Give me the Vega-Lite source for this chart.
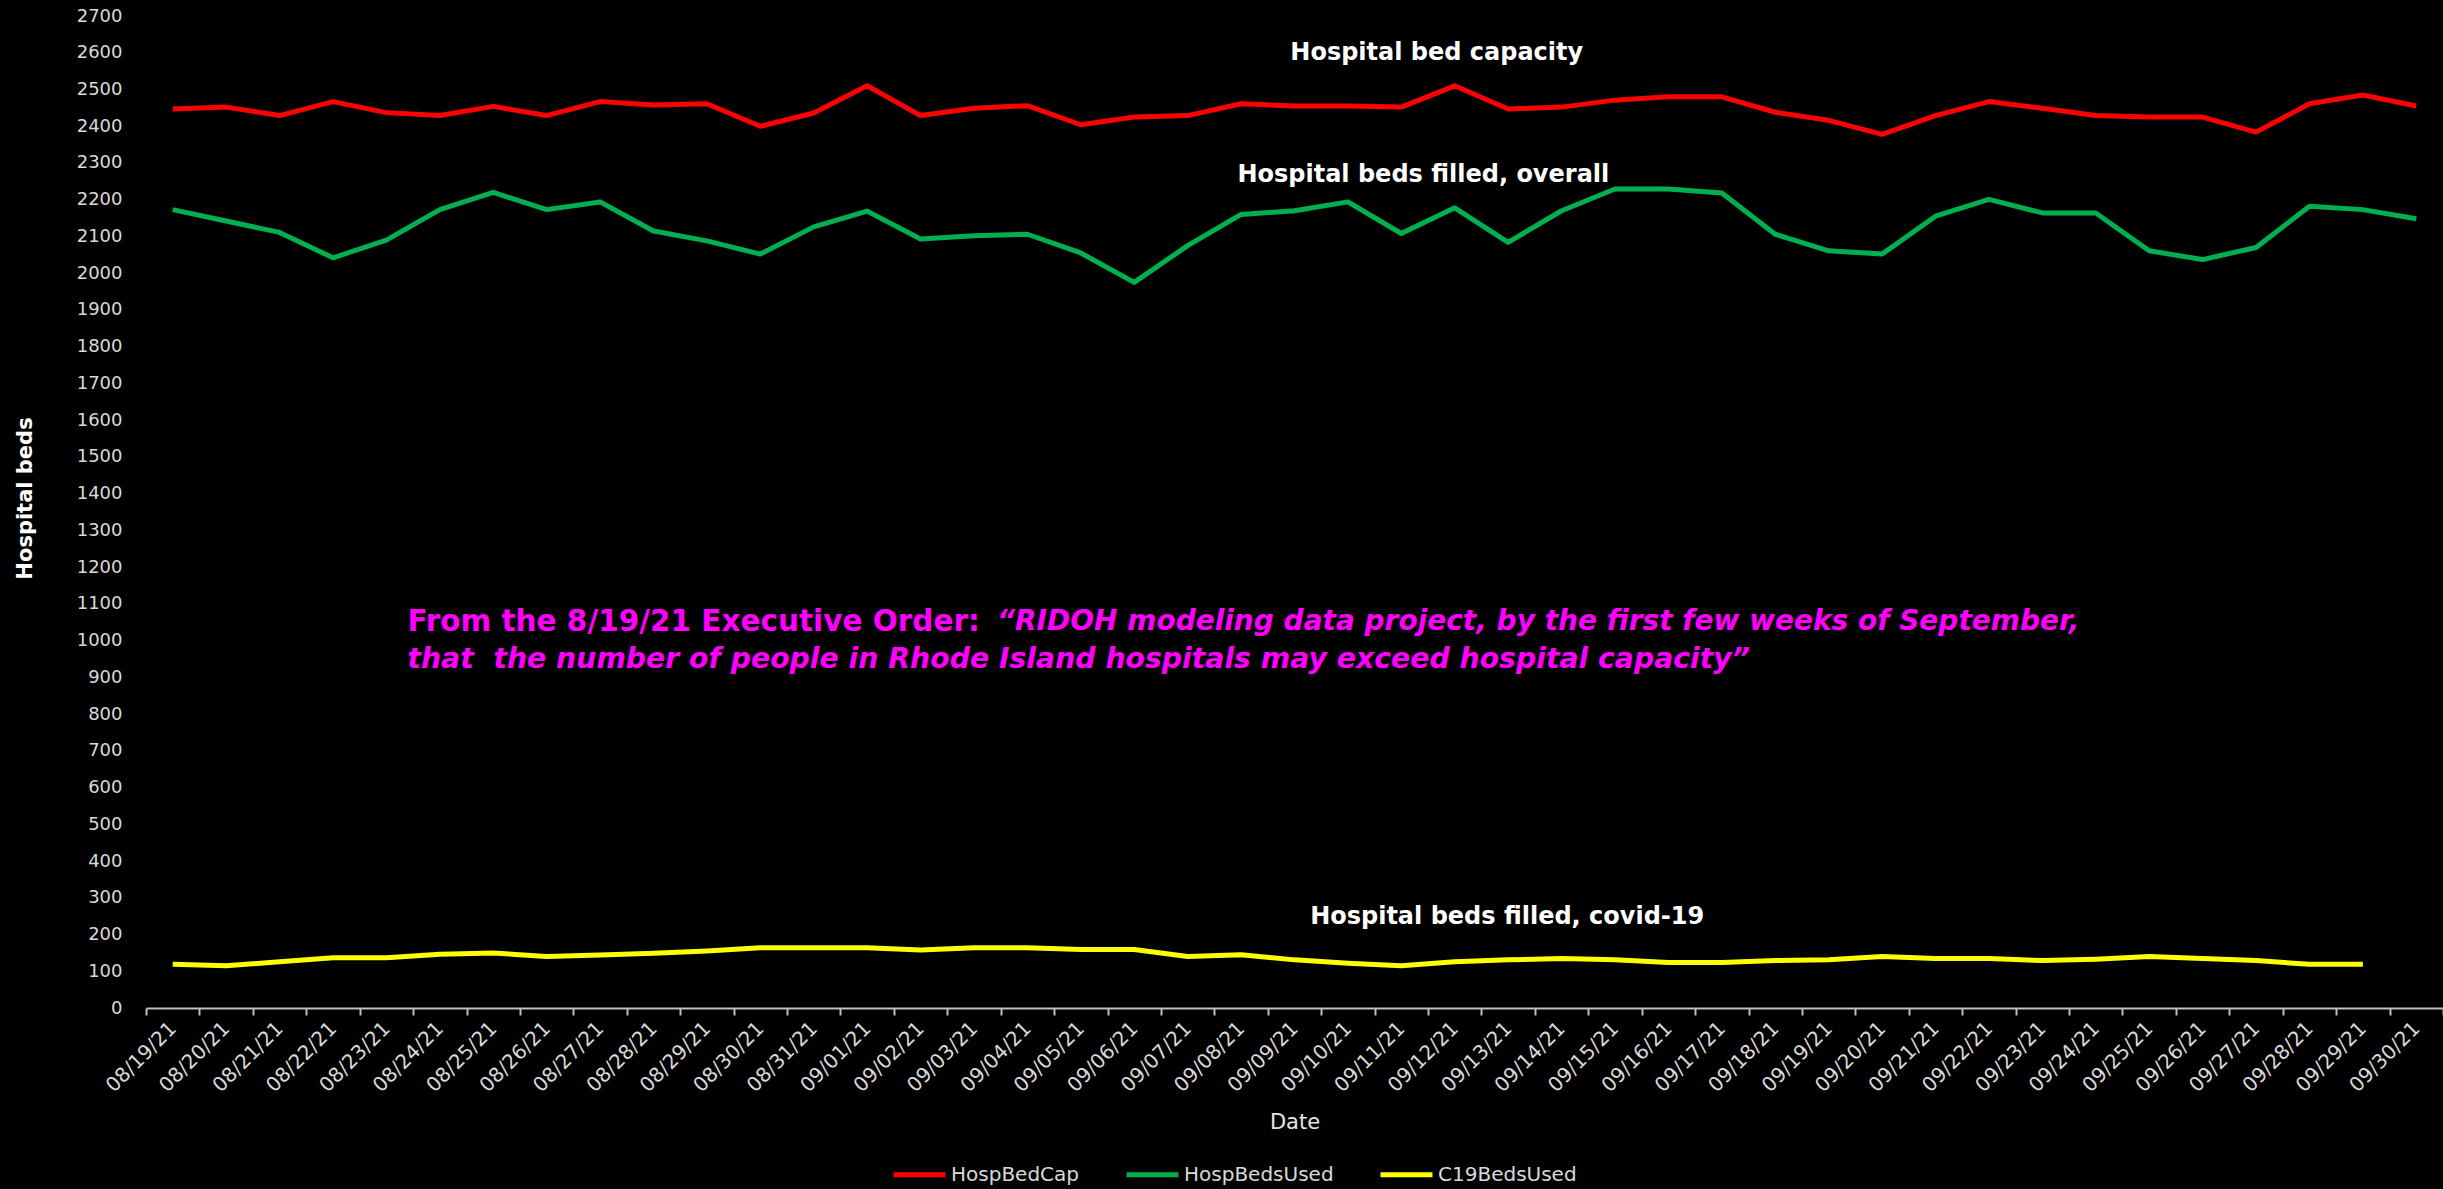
{
  "$schema": "https://vega.github.io/schema/vega-lite/v6.json",
  "autosize": {"type": "none"},
  "padding": {"left": 146, "top": 16, "right": 0, "bottom": 181},
  "width": 2297,
  "height": 992,
  "background": "#000000",
  "config": {
    "view": {"stroke": null},
    "font": "DejaVu Sans"
  },
  "layer": [
    {
      "data": {
        "values": [
          {"date": "08/19/21", "HospBedCap": 2447, "HospBedsUsed": 2173, "C19BedsUsed": 119},
          {"date": "08/20/21", "HospBedCap": 2452, "HospBedsUsed": 2142, "C19BedsUsed": 115},
          {"date": "08/21/21", "HospBedCap": 2429, "HospBedsUsed": 2111, "C19BedsUsed": 126},
          {"date": "08/22/21", "HospBedCap": 2467, "HospBedsUsed": 2042, "C19BedsUsed": 137},
          {"date": "08/23/21", "HospBedCap": 2437, "HospBedsUsed": 2090, "C19BedsUsed": 137},
          {"date": "08/24/21", "HospBedCap": 2429, "HospBedsUsed": 2173, "C19BedsUsed": 146},
          {"date": "08/25/21", "HospBedCap": 2454, "HospBedsUsed": 2220, "C19BedsUsed": 150},
          {"date": "08/26/21", "HospBedCap": 2429, "HospBedsUsed": 2173, "C19BedsUsed": 140},
          {"date": "08/27/21", "HospBedCap": 2467, "HospBedsUsed": 2194, "C19BedsUsed": 144},
          {"date": "08/28/21", "HospBedCap": 2458, "HospBedsUsed": 2115, "C19BedsUsed": 149},
          {"date": "08/29/21", "HospBedCap": 2461, "HospBedsUsed": 2088, "C19BedsUsed": 155},
          {"date": "08/30/21", "HospBedCap": 2400, "HospBedsUsed": 2052, "C19BedsUsed": 164},
          {"date": "08/31/21", "HospBedCap": 2436, "HospBedsUsed": 2126, "C19BedsUsed": 164},
          {"date": "09/01/21", "HospBedCap": 2510, "HospBedsUsed": 2169, "C19BedsUsed": 164},
          {"date": "09/02/21", "HospBedCap": 2429, "HospBedsUsed": 2093, "C19BedsUsed": 158},
          {"date": "09/03/21", "HospBedCap": 2449, "HospBedsUsed": 2102, "C19BedsUsed": 164},
          {"date": "09/04/21", "HospBedCap": 2456, "HospBedsUsed": 2106, "C19BedsUsed": 164},
          {"date": "09/05/21", "HospBedCap": 2404, "HospBedsUsed": 2055, "C19BedsUsed": 159},
          {"date": "09/06/21", "HospBedCap": 2425, "HospBedsUsed": 1975, "C19BedsUsed": 159},
          {"date": "09/07/21", "HospBedCap": 2429, "HospBedsUsed": 2075, "C19BedsUsed": 140},
          {"date": "09/08/21", "HospBedCap": 2461, "HospBedsUsed": 2160, "C19BedsUsed": 145},
          {"date": "09/09/21", "HospBedCap": 2455, "HospBedsUsed": 2170, "C19BedsUsed": 131},
          {"date": "09/10/21", "HospBedCap": 2455, "HospBedsUsed": 2194, "C19BedsUsed": 122},
          {"date": "09/11/21", "HospBedCap": 2452, "HospBedsUsed": 2108, "C19BedsUsed": 115},
          {"date": "09/12/21", "HospBedCap": 2510, "HospBedsUsed": 2178, "C19BedsUsed": 126},
          {"date": "09/13/21", "HospBedCap": 2447, "HospBedsUsed": 2084, "C19BedsUsed": 131},
          {"date": "09/14/21", "HospBedCap": 2452, "HospBedsUsed": 2170, "C19BedsUsed": 135},
          {"date": "09/15/21", "HospBedCap": 2471, "HospBedsUsed": 2229, "C19BedsUsed": 131},
          {"date": "09/16/21", "HospBedCap": 2480, "HospBedsUsed": 2229, "C19BedsUsed": 124},
          {"date": "09/17/21", "HospBedCap": 2480, "HospBedsUsed": 2218, "C19BedsUsed": 124},
          {"date": "09/18/21", "HospBedCap": 2438, "HospBedsUsed": 2106, "C19BedsUsed": 129},
          {"date": "09/19/21", "HospBedCap": 2416, "HospBedsUsed": 2061, "C19BedsUsed": 131},
          {"date": "09/20/21", "HospBedCap": 2378, "HospBedsUsed": 2052, "C19BedsUsed": 140},
          {"date": "09/21/21", "HospBedCap": 2429, "HospBedsUsed": 2155, "C19BedsUsed": 135},
          {"date": "09/22/21", "HospBedCap": 2467, "HospBedsUsed": 2201, "C19BedsUsed": 135},
          {"date": "09/23/21", "HospBedCap": 2449, "HospBedsUsed": 2164, "C19BedsUsed": 129},
          {"date": "09/24/21", "HospBedCap": 2429, "HospBedsUsed": 2164, "C19BedsUsed": 133},
          {"date": "09/25/21", "HospBedCap": 2425, "HospBedsUsed": 2061, "C19BedsUsed": 140},
          {"date": "09/26/21", "HospBedCap": 2425, "HospBedsUsed": 2037, "C19BedsUsed": 135},
          {"date": "09/27/21", "HospBedCap": 2384, "HospBedsUsed": 2070, "C19BedsUsed": 129},
          {"date": "09/28/21", "HospBedCap": 2461, "HospBedsUsed": 2182, "C19BedsUsed": 119},
          {"date": "09/29/21", "HospBedCap": 2485, "HospBedsUsed": 2173, "C19BedsUsed": 119},
          {"date": "09/30/21", "HospBedCap": 2455, "HospBedsUsed": 2148}
        ]
      },
      "transform": [
        {"fold": ["HospBedCap", "HospBedsUsed", "C19BedsUsed"], "as": ["series", "beds"]},
        {"filter": "isValid(datum.beds)"}
      ],
      "mark": {"type": "line", "strokeWidth": 5, "strokeJoin": "round"},
      "encoding": {
        "x": {
          "field": "date",
          "type": "ordinal",
          "scale": {"type": "band", "paddingInner": 0, "paddingOuter": 0},
          "axis": {
            "title": "Date",
            "titleFont": "DejaVu Sans",
            "titleFontSize": 21,
            "titleFontWeight": "normal",
            "titleColor": "#e6e6e6",
            "titleY": 114,
            "titleBaseline": "middle",
            "labelAngle": -45,
            "labelAlign": "right",
            "labelBaseline": "middle",
            "labelFont": "DejaVu Sans",
            "labelFontSize": 20,
            "labelColor": "#d9d9d9",
            "labelPadding": 10,
            "labelOverlap": false,
            "tickBand": "extent",
            "domainColor": "#bfbfbf",
            "domainWidth": 2,
            "tickColor": "#bfbfbf",
            "tickWidth": 2,
            "tickSize": 7,
            "grid": false
          }
        },
        "y": {
          "field": "beds",
          "type": "quantitative",
          "scale": {"domain": [0, 2700], "nice": false},
          "axis": {
            "title": "Hospital beds",
            "titleFont": "DejaVu Sans",
            "titleFontSize": 21,
            "titleFontWeight": "bold",
            "titleColor": "#ffffff",
            "titleAngle": -90,
            "titleX": -121,
            "titleY": 482,
            "titleAlign": "center",
            "titleBaseline": "middle",
            "tickCount": 27,
            "format": "d",
            "labelOverlap": false,
            "labelBound": false,
            "labelFlush": false,
            "labelFont": "DejaVu Sans",
            "labelFontSize": 18,
            "labelColor": "#d9d9d9",
            "labelPadding": 24,
            "ticks": false,
            "domain": false,
            "grid": false
          }
        },
        "color": {
          "field": "series",
          "type": "nominal",
          "scale": {
            "domain": ["HospBedCap", "HospBedsUsed", "C19BedsUsed"],
            "range": ["#ff0000", "#00b050", "#ffff00"]
          },
          "legend": {
            "title": null,
            "orient": "none",
            "legendX": 745,
            "legendY": 1130,
            "direction": "horizontal",
            "symbolType": "stroke",
            "symbolSize": 2704,
            "symbolStrokeWidth": 5,
            "labelFont": "DejaVu Sans",
            "labelFontSize": 20,
            "labelColor": "#d9d9d9",
            "labelOffset": 3,
            "columnPadding": 36
          }
        }
      }
    },
    {
      "data": {"values": [{"date": "09/12/21", "v": 2600, "label": "Hospital bed capacity"}]},
      "mark": {"type": "text", "font": "DejaVu Sans", "fontSize": 24, "fontWeight": "bold", "color": "#ffffff", "align": "center", "baseline": "middle", "dx": -18},
      "encoding": {
        "x": {"field": "date", "type": "ordinal"},
        "y": {"field": "v", "type": "quantitative"},
        "text": {"field": "label"}
      }
    },
    {
      "data": {"values": [{"date": "09/11/21", "v": 2267, "label": "Hospital beds filled, overall"}]},
      "mark": {"type": "text", "font": "DejaVu Sans", "fontSize": 24, "fontWeight": "bold", "color": "#ffffff", "align": "center", "baseline": "middle", "dx": 22},
      "encoding": {
        "x": {"field": "date", "type": "ordinal"},
        "y": {"field": "v", "type": "quantitative"},
        "text": {"field": "label"}
      }
    },
    {
      "data": {"values": [{"date": "09/13/21", "v": 248, "label": "Hospital beds filled, covid-19"}]},
      "mark": {"type": "text", "font": "DejaVu Sans", "fontSize": 24, "fontWeight": "bold", "color": "#ffffff", "align": "center", "baseline": "middle", "dx": -1},
      "encoding": {
        "x": {"field": "date", "type": "ordinal"},
        "y": {"field": "v", "type": "quantitative"},
        "text": {"field": "label"}
      }
    },
    {
      "data": {"values": [{"date": "08/23/21", "v": 1050, "label": "From the 8/19/21 Executive Order: "}]},
      "mark": {"type": "text", "font": "DejaVu Sans", "fontSize": 29.5, "fontWeight": "bold", "color": "#ff00ff", "align": "left", "baseline": "middle", "dx": 21},
      "encoding": {
        "x": {"field": "date", "type": "ordinal"},
        "y": {"field": "v", "type": "quantitative"},
        "text": {"field": "label"}
      }
    },
    {
      "data": {"values": [{"date": "09/03/21", "v": 1050, "label": "“RIDOH modeling data project, by the first few weeks of September,"}]},
      "mark": {"type": "text", "font": "DejaVu Sans", "fontSize": 28, "fontWeight": "bold", "fontStyle": "italic", "color": "#ff00ff", "align": "left", "baseline": "middle", "dx": 23},
      "encoding": {
        "x": {"field": "date", "type": "ordinal"},
        "y": {"field": "v", "type": "quantitative"},
        "text": {"field": "label"}
      }
    },
    {
      "data": {"values": [{"date": "08/23/21", "v": 947, "label": "that\u00a0 the number of people in Rhode Island hospitals may exceed hospital capacity”"}]},
      "mark": {"type": "text", "font": "DejaVu Sans", "fontSize": 28.3, "fontWeight": "bold", "fontStyle": "italic", "color": "#ff00ff", "align": "left", "baseline": "middle", "dx": 21},
      "encoding": {
        "x": {"field": "date", "type": "ordinal"},
        "y": {"field": "v", "type": "quantitative"},
        "text": {"field": "label"}
      }
    }
  ]
}
